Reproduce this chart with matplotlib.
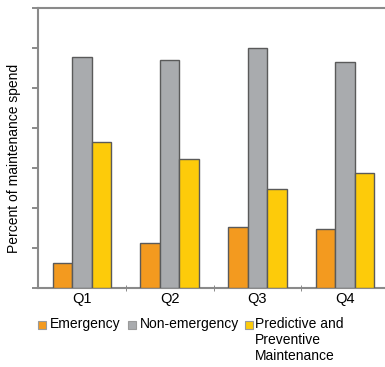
import matplotlib
matplotlib.use('Agg')
import matplotlib.pyplot as plt
from matplotlib.patches import Rectangle
import numpy as np

plt.rcParams['font.family'] = ['Liberation Sans', 'DejaVu Sans']

quarters = ['Q1', 'Q2', 'Q3', 'Q4']
emergency = [0.62, 1.13, 1.53, 1.48]
non_emergency = [5.78, 5.69, 5.99, 5.66]
predictive = [3.64, 3.22, 2.48, 2.88]
series_names = ['Emergency', 'Non-emergency', 'Predictive and\nPreventive\nMaintenance']
colors = ['#F39A1F', '#A9ABAE', '#FDCB0A']

W, H = 385, 367
fig = plt.figure(figsize=(W / 100, H / 100), dpi=100)
left, right, top, bottom = 38, 389, 8, 288
ax = fig.add_axes([left / W, 1 - bottom / H, (right - left) / W, (bottom - top) / H])

x = np.arange(len(quarters))
bw = 0.222
for i, vals in enumerate([emergency, non_emergency, predictive]):
    ax.bar(x + (i - 1) * bw, vals, bw, color=colors[i], edgecolor='#5a5a5a', linewidth=1.0, zorder=3)

ax.set_xlim(-0.5, 3.5)
ax.set_ylim(0, 7)
ax.set_yticks(np.arange(0, 8))
ax.set_yticklabels([])
ax.set_xticks(x)
ax.set_xticklabels(quarters, fontsize=10.5)
ax.set_xticks(np.arange(0.5, 3.5, 1), minor=True)
ax.tick_params(axis='x', which='major', length=0, pad=3)
ax.tick_params(axis='x', which='minor', length=4, color='#777777', direction='inout')
ax.tick_params(axis='y', length=4, color='#777777', width=1.2)

# y label placed by hand, the axes sits close to the left edge
fig.text(14 / W, 1 - 158 / H, 'Percent of maintenance spend', fontsize=10,
         rotation=90, ha='center', va='center')

for s in ['left', 'bottom', 'top']:
    ax.spines[s].set_color('#8a8a8a')
    ax.spines[s].set_linewidth(1.5)
ax.spines['right'].set_visible(False)

# legend drawn by hand so the multi-line label's marker sits on its first line
leg_marks = [38, 128, 245]
leg_text = [50, 140, 255]
ly = 325
for i, name in enumerate(series_names):
    fig.patches.append(Rectangle((leg_marks[i] / W, 1 - (ly + 4) / H), 8 / W, 8 / H,
                                 transform=fig.transFigure, facecolor=colors[i],
                                 edgecolor='#9a9a9a', linewidth=0.8))
    fig.text(leg_text[i] / W, 1 - (ly - 8) / H, name, fontsize=10, va='top', ha='left',
             linespacing=1.2)

fig.savefig('out.png', dpi=100)
